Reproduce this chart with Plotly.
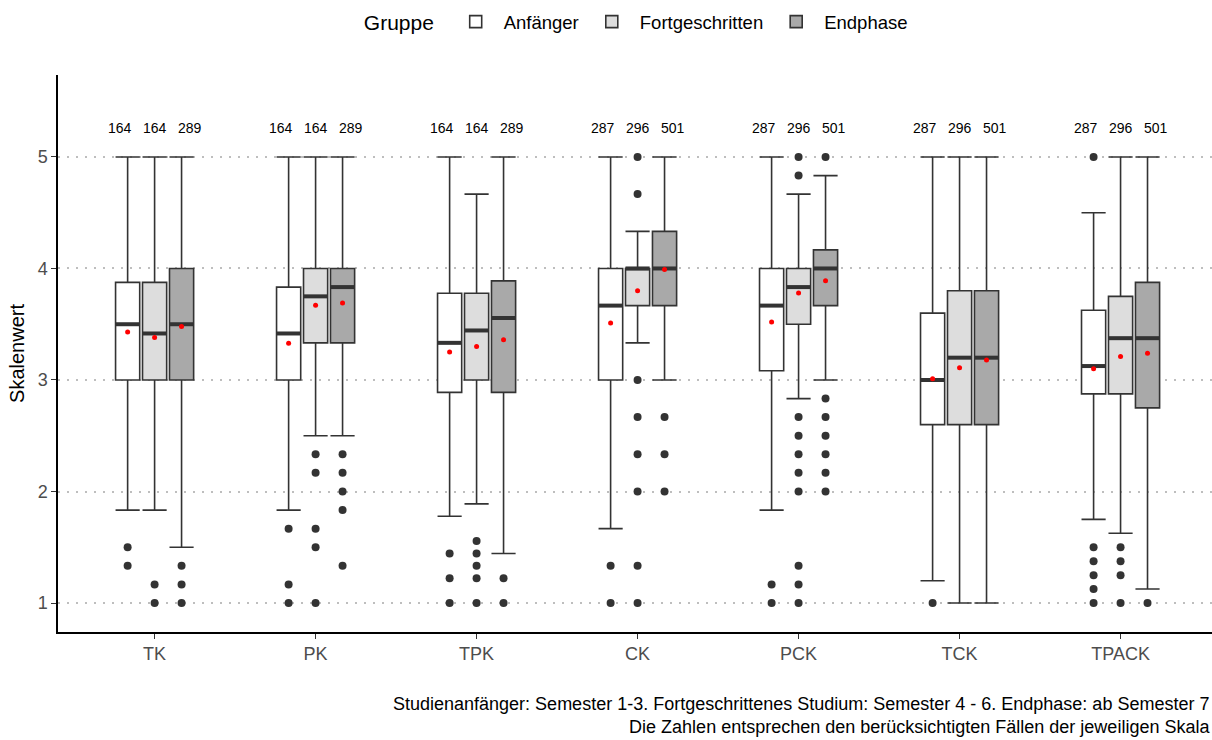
import plotly.graph_objects as go

categories = ["TK", "PK", "TPK", "CK", "PCK", "TCK", "TPACK"]
groups = ["Anfänger", "Fortgeschritten", "Endphase"]

# Anfänger
n_anf = [164, 164, 164, 287, 287, 287, 287]
q1_anf = [3.0, 3.0, 2.889, 3.0, 3.083, 2.6, 2.875]
med_anf = [3.5, 3.417, 3.333, 3.667, 3.667, 3.0, 3.125]
q3_anf = [3.875, 3.833, 3.778, 4.0, 4.0, 3.6, 3.625]
lo_anf = [1.833, 1.833, 1.778, 1.667, 1.833, 1.2, 1.75]
hi_anf = [5.0, 5.0, 5.0, 5.0, 5.0, 5.0, 4.5]
mean_anf = [3.43, 3.33, 3.25, 3.51, 3.52, 3.01, 3.10]
out_anf = [[1.5, 1.333], [1.667, 1.167, 1.0], [1.444, 1.222, 1.0], [1.333, 1.0],
           [1.167, 1.0], [1.0], [5.0, 1.5, 1.375, 1.25, 1.125, 1.0]]

# Fortgeschritten
n_fort = [164, 164, 164, 296, 296, 296, 296]
q1_fort = [3.0, 3.333, 3.0, 3.667, 3.5, 2.6, 2.875]
med_fort = [3.417, 3.75, 3.444, 4.0, 3.833, 3.2, 3.375]
q3_fort = [3.875, 4.0, 3.778, 4.0, 4.0, 3.8, 3.75]
lo_fort = [1.833, 2.5, 1.889, 3.333, 2.833, 1.0, 1.625]
hi_fort = [5.0, 5.0, 4.667, 4.333, 4.667, 5.0, 5.0]
mean_fort = [3.38, 3.67, 3.30, 3.80, 3.78, 3.11, 3.21]
out_fort = [[1.167, 1.0], [2.333, 2.167, 1.667, 1.5, 1.0], [1.556, 1.444, 1.333, 1.222, 1.0],
            [5.0, 4.667, 3.0, 2.667, 2.333, 2.0, 1.333, 1.0],
            [5.0, 4.833, 2.667, 2.5, 2.333, 2.167, 2.0, 1.333, 1.167, 1.0],
            [], [1.5, 1.375, 1.25, 1.0]]

# Endphase
n_end = [289, 289, 289, 501, 501, 501, 501]
q1_end = [3.0, 3.333, 2.889, 3.667, 3.667, 2.6, 2.75]
med_end = [3.5, 3.833, 3.556, 4.0, 4.0, 3.2, 3.375]
q3_end = [4.0, 4.0, 3.889, 4.333, 4.167, 3.8, 3.875]
lo_end = [1.5, 2.5, 1.444, 3.0, 3.0, 1.0, 1.125]
hi_end = [5.0, 5.0, 5.0, 5.0, 4.833, 5.0, 5.0]
mean_end = [3.48, 3.69, 3.36, 3.99, 3.89, 3.18, 3.24]
out_end = [[1.333, 1.167, 1.0], [2.333, 2.167, 2.0, 1.833, 1.333], [1.222, 1.0],
           [2.667, 2.333, 2.0], [5.0, 2.833, 2.667, 2.5, 2.333, 2.167, 2.0], [], [1.0]]

caption_lines = [
    "Studienanfänger: Semester 1-3. Fortgeschrittenes Studium: Semester 4 - 6. Endphase: ab Semester 7",
    "Die Zahlen entsprechen den berücksichtigten Fällen der jeweiligen Skala",
]

fills = ["#FFFFFF", "#DDDDDD", "#A9A9A9"]
edge = "#333333"
FONT = "Liberation Sans, Arial, sans-serif"

data = [
    (n_anf, q1_anf, med_anf, q3_anf, lo_anf, hi_anf, mean_anf, out_anf),
    (n_fort, q1_fort, med_fort, q3_fort, lo_fort, hi_fort, mean_fort, out_fort),
    (n_end, q1_end, med_end, q3_end, lo_end, hi_end, mean_end, out_end),
]

dodge = 0.1675
label_dodge = 0.2174
bw = 0.15
label_y = 5.25

fig = go.Figure()

for g, (name, d, fill) in enumerate(zip(groups, data, fills)):
    n, q1, med, q3, lo, hi, mean, out = d
    pos = [i + 1 + (g - 1) * dodge for i in range(len(categories))]
    lpos = [i + 1 + (g - 1) * label_dodge for i in range(len(categories))]
    fig.add_trace(go.Box(
        name=name, x=pos, q1=q1, median=med, q3=q3,
        lowerfence=lo, upperfence=hi, boxpoints=False,
        width=bw, whiskerwidth=1, fillcolor=fill,
        line=dict(color=edge, width=1.6), hoverinfo="skip",
        legendgroup=name, showlegend=True,
    ))
    # thick median
    mx, my = [], []
    for p, m in zip(pos, med):
        mx += [p - bw / 2, p + bw / 2, None]
        my += [m, m, None]
    fig.add_trace(go.Scatter(x=mx, y=my, mode="lines",
                             line=dict(color=edge, width=4),
                             showlegend=False, hoverinfo="skip"))
    # outliers
    ox, oy = [], []
    for p, o in zip(pos, out):
        ox += [p] * len(o)
        oy += o
    fig.add_trace(go.Scatter(x=ox, y=oy, mode="markers",
                             marker=dict(color=edge, size=8),
                             showlegend=False, hoverinfo="skip"))
    # means
    fig.add_trace(go.Scatter(x=pos, y=mean, mode="markers",
                             marker=dict(color="#FF0000", size=5),
                             showlegend=False, hoverinfo="skip"))
    # counts
    fig.add_trace(go.Scatter(x=lpos, y=[label_y] * len(lpos), mode="text",
                             text=[str(v) for v in n],
                             textfont=dict(family=FONT, size=14, color="#000000"),
                             showlegend=False, hoverinfo="skip"))

fig.update_layout(
    width=1212, height=740,
    margin=dict(l=58, r=0, t=75, b=108),
    paper_bgcolor="white", plot_bgcolor="white",
    boxmode="overlay",
    font=dict(family=FONT, color="#000000"),
    legend=dict(
        orientation="h", x=0.502, xanchor="center", y=1.095, yanchor="middle",
        title=dict(text="Gruppe ", font=dict(size=21, color="#000000")),
        font=dict(size=18.5, color="#000000"),
        itemwidth=46,
    ),
    xaxis=dict(
        range=[0.4, 7.568], tickmode="array",
        tickvals=list(range(1, len(categories) + 1)), ticktext=categories,
        showgrid=False, zeroline=False,
        showline=True, linecolor="#000000", linewidth=1.5,
        ticks="outside", ticklen=5, tickcolor="#333333", tickwidth=1.2,
        tickfont=dict(size=18, color="#4D4D4D"),
    ),
    yaxis=dict(
        range=[0.74, 5.735], tickvals=[1, 2, 3, 4, 5],
        showgrid=True, gridcolor="#BEBEBE", gridwidth=1.5, griddash="2px,7px",
        zeroline=False,
        showline=True, linecolor="#000000", linewidth=1.5,
        ticks="outside", ticklen=5, tickcolor="#333333", tickwidth=1.2,
        tickfont=dict(size=18, color="#4D4D4D"),
        title=dict(text="Skalenwert", font=dict(size=20, color="#000000"), standoff=8),
    ),
    annotations=[dict(
        xref="paper", yref="paper", x=1.0, y=-0.150,
        xanchor="right", yanchor="middle", align="right", showarrow=False,
        text="<br>".join(caption_lines), font=dict(size=18, color="#000000"),
    )],
)

fig.write_html("out.html", config={"displayModeBar": False},
               post_script="document.body.style.margin='0';document.body.style.overflow='hidden';")
